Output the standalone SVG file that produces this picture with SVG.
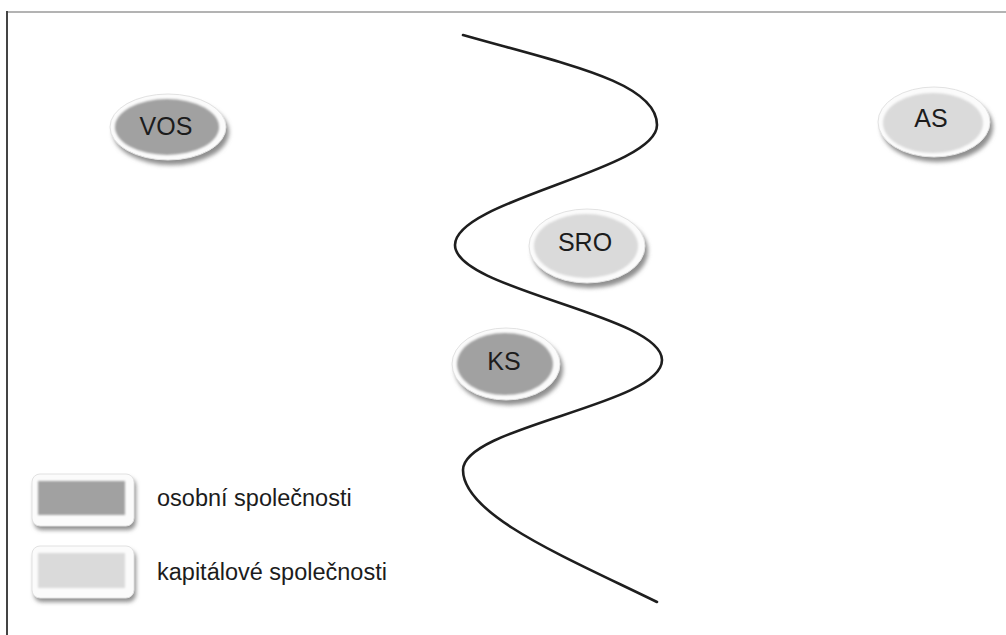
<svg xmlns="http://www.w3.org/2000/svg" width="1006" height="635" viewBox="0 0 1006 635">
  <style>
    .lbl { font-family: "Liberation Sans", Arial, sans-serif; fill: #1c1c1c; }
    .node-text { font-size: 25px; text-anchor: middle; dominant-baseline: central; }
    .legend-text { font-size: 23.5px; }
    .rim { fill: #fbfbfb; stroke: #e2e2e2; stroke-width: 1; }
    .shadow { fill: #8f8f8f; filter: url(#soft); }
    .dark { fill: #a1a1a1; }
    .light { fill: #dadada; }
    .wave { fill: none; stroke: #1e1e1e; stroke-width: 2.6; stroke-linecap: round; }
  </style>
  <defs>
    <filter id="soft" x="-30%" y="-30%" width="160%" height="160%">
      <feGaussianBlur stdDeviation="2.2"/>
    </filter>
    <filter id="edge" x="-10%" y="-10%" width="120%" height="120%">
      <feGaussianBlur stdDeviation="0.8"/>
    </filter>
  </defs>

  <rect width="1006" height="635" fill="#ffffff"/>

  <!-- frame -->
  <line x1="7" y1="12" x2="1006" y2="12" stroke="#9a9a9a" stroke-width="1.6"/>
  <line x1="7" y1="11" x2="7" y2="635" stroke="#444" stroke-width="2"/>

  <!-- dividing wave -->
  <g id="connectors">
    <path class="wave" d="M463,35 C565,64 657,82 657,125 C657,170 455,200 455,245 C455,290 662,315 662,360 C662,405 463,426 463,470 C463,515 565,557 657,602"/>
  </g>

  <g id="node-vos">
    <ellipse class="shadow" cx="171" cy="132" rx="58" ry="33"/>
    <ellipse class="rim" cx="168" cy="127" rx="58" ry="33"/>
    <ellipse class="dark" cx="167" cy="127" rx="52" ry="28" filter="url(#edge)"/>
    <text class="lbl node-text" x="166" y="126">VOS</text>
  </g>

  <g id="node-as">
    <ellipse class="shadow" cx="937" cy="127" rx="56" ry="35"/>
    <ellipse class="rim" cx="934" cy="122" rx="56" ry="35"/>
    <ellipse class="light" cx="933" cy="123" rx="50" ry="30" filter="url(#edge)"/>
    <text class="lbl node-text" x="931" y="118">AS</text>
  </g>

  <g id="node-sro">
    <ellipse class="shadow" cx="590" cy="251" rx="58" ry="37"/>
    <ellipse class="rim" cx="587" cy="246" rx="58" ry="37"/>
    <ellipse class="light" cx="586" cy="246" rx="52" ry="32" filter="url(#edge)"/>
    <text class="lbl node-text" x="585" y="242">SRO</text>
  </g>

  <g id="node-ks">
    <ellipse class="shadow" cx="509" cy="369" rx="54" ry="36"/>
    <ellipse class="rim" cx="506" cy="364" rx="54" ry="36"/>
    <ellipse class="dark" cx="505" cy="364" rx="48" ry="31" filter="url(#edge)"/>
    <text class="lbl node-text" x="504" y="361">KS</text>
  </g>

  <!-- legend -->
  <g id="legend-personal">
    <rect class="shadow" x="34" y="478" width="102" height="52" rx="8"/>
    <rect class="rim" x="32" y="474" width="102" height="52" rx="8"/>
    <rect class="dark" x="38" y="481" width="87" height="34" filter="url(#edge)"/>
    <text class="lbl legend-text" x="157" y="506">osobní společnosti</text>
  </g>

  <g id="legend-capital">
    <rect class="shadow" x="34" y="550" width="102" height="52" rx="8"/>
    <rect class="rim" x="32" y="546" width="102" height="52" rx="8"/>
    <rect class="light" x="38" y="553" width="87" height="35" filter="url(#edge)"/>
    <text class="lbl legend-text" x="157" y="580">kapitálové společnosti</text>
  </g>
</svg>
